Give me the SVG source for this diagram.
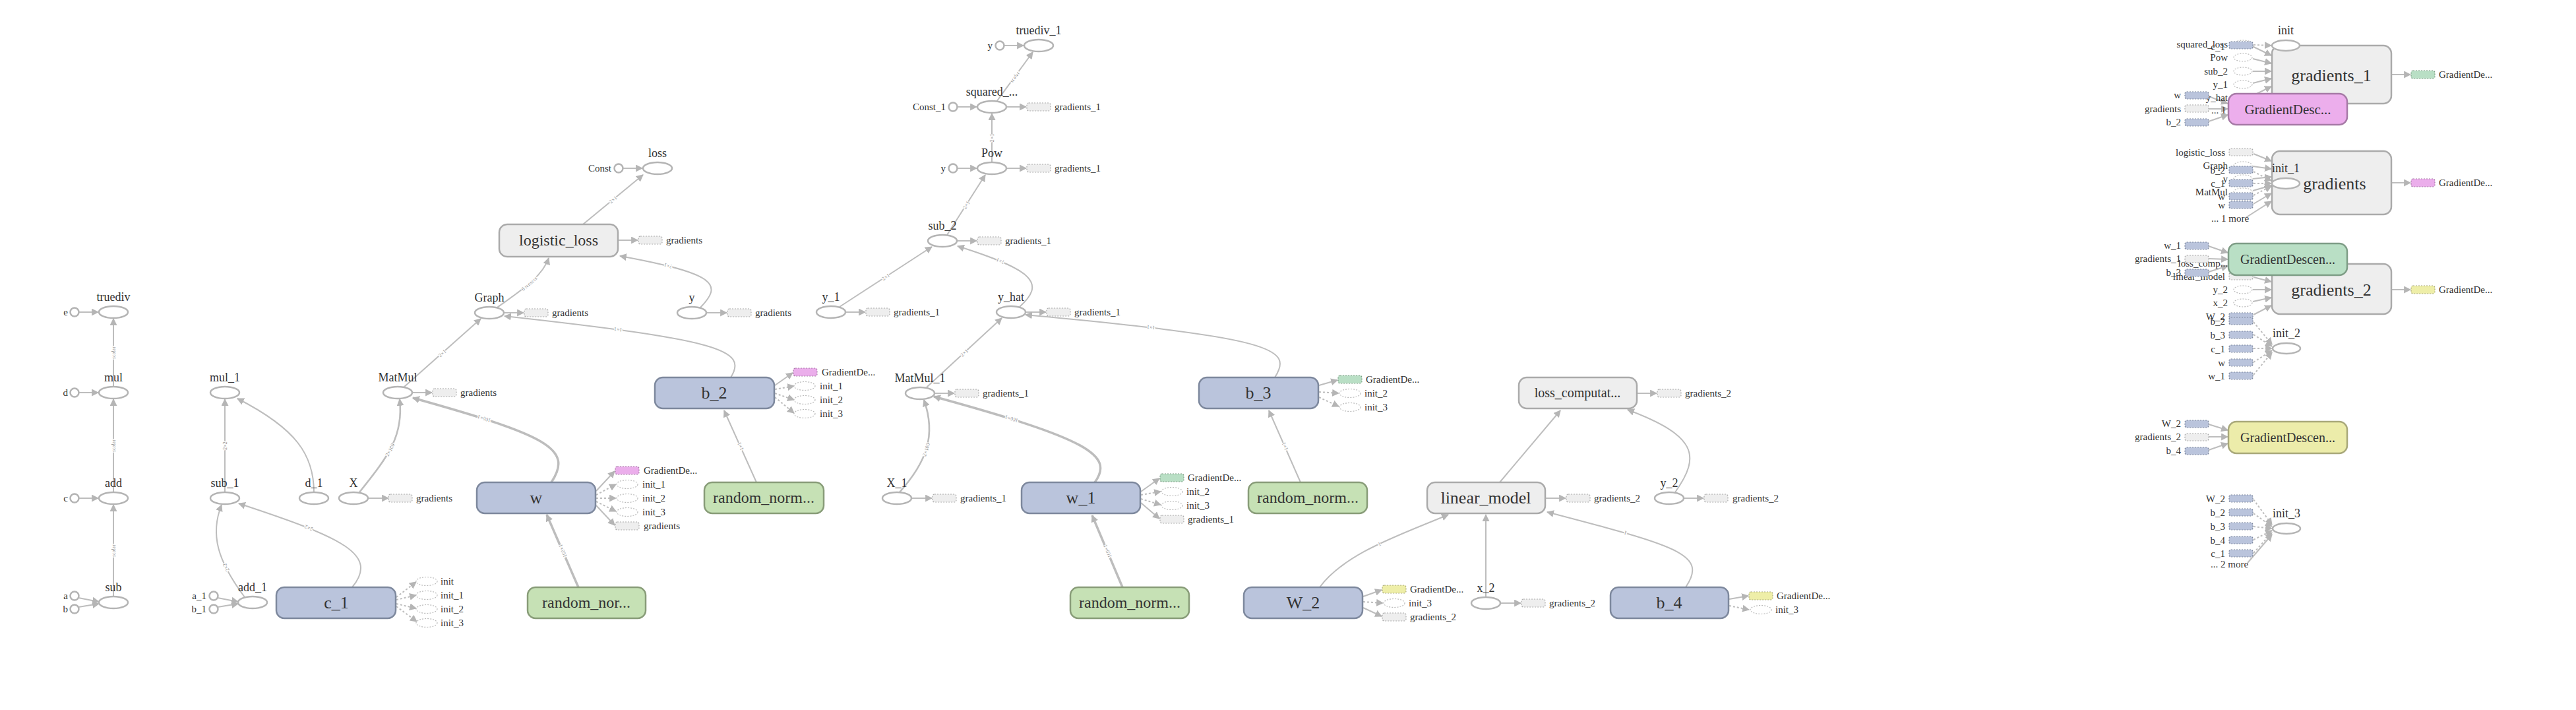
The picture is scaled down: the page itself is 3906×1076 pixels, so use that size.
<svg xmlns="http://www.w3.org/2000/svg" width="3906" height="1076" viewBox="0 0 3906 1076">
<defs>
<marker id="ah" viewBox="0 0 10 10" refX="9" refY="5" markerWidth="11" markerHeight="11" markerUnits="userSpaceOnUse" orient="auto"><path d="M0,0L10,5L0,10z" fill="#b5b5b5"/></marker>
</defs>
<style>
text{font-family:"Liberation Serif","Times New Roman",serif;fill:#333}
.op{fill:#fff;stroke:#b4b4b4;stroke-width:2.5}
.e{fill:none;stroke:#bdbdbd;stroke-width:2;marker-end:url(#ah)}
.t{stroke-width:3.5}
.m{stroke-width:2.6}
.c{stroke-dasharray:3,3}
.el{font-size:8px;fill:#888;stroke:#fff;stroke-width:2.5;paint-order:stroke}
.ol{font-size:18px;text-anchor:middle}
.sl{font-size:15px}
.sr{font-size:15px;text-anchor:end}
.bl{font-size:26px;text-anchor:middle}
.var{fill:#bac4dc;stroke:#7d889d;stroke-width:2.5}
.rn{fill:#c6e1b5;stroke:#889c78;stroke-width:2.5}
.meta{fill:#eeeeee;stroke:#aaaaaa;stroke-width:2.5}
.pk{fill:#ecaeec;stroke:#a67aa6;stroke-width:2.5}
.gd{fill:#b9dfc5;stroke:#7e9d86;stroke-width:2.5}
.yl{fill:#ececaa;stroke:#a8a87a;stroke-width:2.5}
.sb{stroke-width:1.2;stroke-dasharray:2,2}
.g{fill:#eeeeee;stroke:#aaaaaa}
.v{fill:#bac4dc;stroke:#7d889d}
.p{fill:#ebaeeb;stroke:#a57aa5}
.n{fill:#b9dfc5;stroke:#7e9d86}
.y{fill:#eeeea8;stroke:#a8a87c}
.se{fill:#fff;stroke:#bbbbbb;stroke-width:1.2;stroke-dasharray:2,2}
</style>
<rect width="3906" height="1076" fill="#fff"/>

<g id="connectors">
<!-- left column -->
<path class="e" d="M120,473L149,473"/>
<path class="e" d="M120,595L149,595"/>
<path class="e" d="M120,755L149,755"/>
<path class="e" d="M119,906L150,912"/>
<path class="e" d="M119,920L150,915"/>
<path id="p1" class="e" d="M172,904L172,765"/>
<path id="p2" class="e" d="M172,746L172,605"/>
<path id="p3" class="e" d="M172,586L172,483"/>
<!-- column 2 -->
<path class="e" d="M330,906L361,912"/>
<path class="e" d="M330,920L361,915"/>
<path id="p4" class="e" d="M341,746L341,605"/>
<path class="e" d="M476,746C476,690 450,650 360,604"/>
<path id="p5" class="e" d="M371,905C330,850 318,810 336,765"/>
<path id="p6" class="e" d="M534,890C575,840 520,815 362,763"/>
<path id="p7" class="e m" d="M545,746C590,690 612,660 606,605"/>
<path class="e" d="M558,755L589,755"/>
<path class="e" d="M625,595L655,595"/>
<path id="p8" class="e" d="M612,587L729,483"/>
<path id="p9" class="e t" d="M836,731C870,680 830,660 626,603"/>
<path id="p10" class="e t" d="M877,890L829,780"/>
<path class="e c" d="M601,905L631,882"/>
<path class="e c" d="M601,909L631,902"/>
<path class="e c" d="M601,915L631,922"/>
<path class="e c" d="M601,919L632,942"/>
<path class="e" d="M904,744L932,714"/>
<path class="e c" d="M904,750L934,734"/>
<path class="e c" d="M904,755L934,755"/>
<path class="e c" d="M904,760L934,775"/>
<path class="e" d="M904,766L932,796"/>
<path class="e" d="M764,474L794,474"/>
<path id="p11" class="e" d="M754,466C790,440 822,420 832,391"/>
<path class="e" d="M937,364L967,364"/>
<path id="p12" class="e" d="M884,340L975,265"/>
<path class="e" d="M945,255L974,255"/>
<path class="e" d="M1071,474L1102,474"/>
<path id="p13" class="e" d="M1062,466C1095,432 1090,415 940,388"/>
<path id="p14" class="e" d="M1108,572C1135,530 1090,515 765,479"/>
<path id="p15" class="e" d="M1147,731L1098,622"/>
<path class="e" d="M1175,584L1202,565"/>
<path class="e c" d="M1175,590L1204,585"/>
<path class="e c" d="M1175,596L1204,606"/>
<path class="e c" d="M1175,602L1204,626"/>
<!-- second graph -->
<path id="p16" class="e" d="M1511,154L1566,79"/>
<path class="e" d="M1523,69L1552,69"/>
<path class="e" d="M1452,162L1481,162"/>
<path class="e" d="M1526,162L1556,162"/>
<path id="p17" class="e" d="M1504,246L1504,172"/>
<path class="e" d="M1452,255L1481,255"/>
<path class="e" d="M1526,255L1556,255"/>
<path id="p18" class="e" d="M1436,356L1494,265"/>
<path class="e" d="M1451,365L1481,365"/>
<path id="p19" class="e" d="M1273,465L1413,374"/>
<path class="e" d="M1282,473L1312,473"/>
<path id="p20" class="e" d="M1546,465C1585,430 1570,410 1452,373"/>
<path class="e" d="M1555,473L1586,473"/>
<path id="p21" class="e" d="M1405,587L1519,482"/>
<path class="e" d="M1417,596L1447,596"/>
<path id="p22" class="e m" d="M1364,746C1405,700 1420,660 1401,606"/>
<path class="e" d="M1382,755L1413,755"/>
<path id="p23" class="e t" d="M1660,731C1690,690 1650,665 1416,601"/>
<path id="p24" class="e" d="M1933,572C1962,528 1930,512 1555,477"/>
<path id="p25" class="e" d="M1972,731L1924,622"/>
<path id="p26" class="e t" d="M1702,890L1656,781"/>
<path class="e" d="M1730,745L1758,725"/>
<path class="e c" d="M1730,750L1760,745"/>
<path class="e c" d="M1730,756L1760,765"/>
<path class="e" d="M1730,762L1758,786"/>
<path class="e" d="M2000,584L2028,576"/>
<path class="e c" d="M2000,594L2030,596"/>
<path class="e c" d="M2000,602L2030,616"/>
<!-- third graph -->
<path class="e" d="M2483,596L2512,596"/>
<path class="e" d="M2344,755L2374,755"/>
<path class="e" d="M2553,755L2583,755"/>
<path class="e" d="M2275,914L2306,914"/>
<path class="e" d="M2274,731L2366,622"/>
<path class="e" d="M2540,746C2580,690 2572,660 2468,621"/>
<path id="p27" class="e" d="M2001,890C2040,838 2120,812 2196,780"/>
<path class="e" d="M2253,905L2253,780"/>
<path id="p28" class="e" d="M2556,890C2590,840 2545,828 2346,776"/>
<path class="e" d="M2067,904L2095,894"/>
<path class="e c" d="M2067,912L2097,914"/>
<path class="e" d="M2067,921L2095,934"/>
<path class="e" d="M2622,908L2651,903"/>
<path class="e c" d="M2622,918L2652,924"/>
<!-- right side -->
<path class="e" d="M3415,70L3444,84"/>
<path class="e" d="M3416,89L3444,96"/>
<path class="e" d="M3416,108L3444,108"/>
<path class="e" d="M3416,126L3444,119"/>
<path class="e" d="M3416,145L3444,131"/>
<path class="e" d="M3410,167L3444,142"/>
<path class="e c" d="M3417,68L3444,69"/>
<path class="e" d="M3627,113L3655,113"/>
<path class="e" d="M3349,146L3378,157"/>
<path class="e" d="M3349,165L3378,165"/>
<path class="e" d="M3349,184L3378,174"/>
<path class="e" d="M3417,233L3444,244"/>
<path class="e" d="M3416,252L3444,256"/>
<path class="e" d="M3416,271L3444,268"/>
<path class="e" d="M3416,289L3444,281"/>
<path class="e" d="M3417,309L3444,293"/>
<path class="e" d="M3405,330L3444,305"/>
<path class="e c" d="M3417,260L3444,274"/>
<path class="e c" d="M3417,278L3444,278"/>
<path class="e c" d="M3417,296L3444,282"/>
<path class="e" d="M3627,277L3655,277"/>
<path class="e" d="M3417,402L3444,414"/>
<path class="e" d="M3417,420L3444,427"/>
<path class="e" d="M3416,439L3444,439"/>
<path class="e" d="M3416,457L3444,451"/>
<path class="e" d="M3417,477L3444,463"/>
<path class="e" d="M3627,439L3655,439"/>
<path class="e" d="M3349,373L3378,383"/>
<path class="e" d="M3349,392L3378,393"/>
<path class="e" d="M3349,412L3378,403"/>
<path class="e c" d="M3417,488L3445,522"/>
<path class="e c" d="M3417,507L3445,525"/>
<path class="e c" d="M3417,528L3445,528"/>
<path class="e c" d="M3417,549L3445,531"/>
<path class="e c" d="M3417,568L3445,534"/>
<path class="e" d="M3349,643L3378,652"/>
<path class="e" d="M3349,662L3378,662"/>
<path class="e" d="M3349,682L3378,672"/>
<path class="e c" d="M3417,757L3445,795"/>
<path class="e c" d="M3417,778L3445,798"/>
<path class="e c" d="M3417,798L3445,801"/>
<path class="e c" d="M3417,818L3445,804"/>
<path class="e c" d="M3417,838L3445,807"/>
<path class="e" d="M3408,853L3445,810"/>
<!-- edge labels -->
<text class="el" dy="3"><textPath href="#p1" startOffset="50%" text-anchor="middle">scalar</textPath></text>
<text class="el" dy="3"><textPath href="#p2" startOffset="50%" text-anchor="middle">scalar</textPath></text>
<text class="el" dy="3"><textPath href="#p3" startOffset="50%" text-anchor="middle">scalar</textPath></text>
<text class="el" dy="3"><textPath href="#p4" startOffset="50%" text-anchor="middle">2×2</textPath></text>
<text class="el" dy="3"><textPath href="#p5" startOffset="35%" text-anchor="middle">2×2</textPath></text>
<text class="el" dy="3"><textPath href="#p6" startOffset="55%" text-anchor="middle">2×2</textPath></text>
<text class="el" dy="3"><textPath href="#p7" startOffset="50%" text-anchor="middle">2×100</textPath></text>
<text class="el" dy="3"><textPath href="#p8" startOffset="50%" text-anchor="middle">2×1</textPath></text>
<text class="el" dy="3"><textPath href="#p9" startOffset="60%" text-anchor="middle">100×1</textPath></text>
<text class="el" dy="3"><textPath href="#p10" startOffset="50%" text-anchor="middle">100×1</textPath></text>
<text class="el" dy="3"><textPath href="#p11" startOffset="55%" text-anchor="middle">6 tensors</textPath></text>
<text class="el" dy="3"><textPath href="#p12" startOffset="50%" text-anchor="middle">2×1</textPath></text>
<text class="el" dy="3"><textPath href="#p13" startOffset="60%" text-anchor="middle">?×1</textPath></text>
<text class="el" dy="3"><textPath href="#p14" startOffset="55%" text-anchor="middle">1×1</textPath></text>
<text class="el" dy="3"><textPath href="#p15" startOffset="50%" text-anchor="middle">1×1</textPath></text>
<text class="el" dy="3"><textPath href="#p16" startOffset="50%" text-anchor="middle">scalar</textPath></text>
<text class="el" dy="3"><textPath href="#p17" startOffset="50%" text-anchor="middle">2×1</textPath></text>
<text class="el" dy="3"><textPath href="#p18" startOffset="50%" text-anchor="middle">2×1</textPath></text>
<text class="el" dy="3"><textPath href="#p19" startOffset="50%" text-anchor="middle">2×1</textPath></text>
<text class="el" dy="3"><textPath href="#p20" startOffset="60%" text-anchor="middle">?×1</textPath></text>
<text class="el" dy="3"><textPath href="#p21" startOffset="50%" text-anchor="middle">2×1</textPath></text>
<text class="el" dy="3"><textPath href="#p22" startOffset="50%" text-anchor="middle">2×100</textPath></text>
<text class="el" dy="3"><textPath href="#p23" startOffset="60%" text-anchor="middle">100×1</textPath></text>
<text class="el" dy="3"><textPath href="#p24" startOffset="55%" text-anchor="middle">1×1</textPath></text>
<text class="el" dy="3"><textPath href="#p25" startOffset="50%" text-anchor="middle">1×1</textPath></text>
<text class="el" dy="3"><textPath href="#p26" startOffset="50%" text-anchor="middle">100×1</textPath></text>
<text class="el" dy="3"><textPath href="#p27" startOffset="50%" text-anchor="middle">1</textPath></text>
<text class="el" dy="3"><textPath href="#p28" startOffset="55%" text-anchor="middle">1</textPath></text>
</g>

<!-- ===== left column ===== -->
<g id="node-truediv"><ellipse class="op" cx="172" cy="473" rx="22" ry="9"/><text class="ol" x="172" y="456">truediv</text></g>
<g id="node-e"><circle class="op" cx="113" cy="473" r="6.5"/><text class="sr" x="103" y="478">e</text></g>
<g id="node-mul"><ellipse class="op" cx="172" cy="595" rx="22" ry="9"/><text class="ol" x="172" y="578">mul</text></g>
<g id="node-d"><circle class="op" cx="113" cy="595" r="6.5"/><text class="sr" x="103" y="600">d</text></g>
<g id="node-add"><ellipse class="op" cx="172" cy="755" rx="22" ry="9"/><text class="ol" x="172" y="738">add</text></g>
<g id="node-c"><circle class="op" cx="113" cy="755" r="6.5"/><text class="sr" x="103" y="760">c</text></g>
<g id="node-sub"><ellipse class="op" cx="172" cy="913" rx="22" ry="9"/><text class="ol" x="172" y="896">sub</text></g>
<g id="node-a"><circle class="op" cx="113" cy="903" r="6.5"/><text class="sr" x="103" y="908">a</text></g>
<g id="node-b"><circle class="op" cx="113" cy="923" r="6.5"/><text class="sr" x="103" y="928">b</text></g>

<!-- ===== column 2 ===== -->
<g id="node-mul_1"><ellipse class="op" cx="341" cy="595" rx="22" ry="9"/><text class="ol" x="341" y="578">mul_1</text></g>
<g id="node-sub_1"><ellipse class="op" cx="341" cy="755" rx="22" ry="9"/><text class="ol" x="341" y="738">sub_1</text></g>
<g id="node-d_1"><ellipse class="op" cx="476" cy="755" rx="22" ry="9"/><text class="ol" x="476" y="738">d_1</text></g>
<g id="node-X"><ellipse class="op" cx="536" cy="755" rx="22" ry="9"/><text class="ol" x="536" y="738">X</text>
<rect class="sb g" x="589" y="749" width="36" height="12" rx="3"/><text class="sl" x="631" y="760">gradients</text></g>
<g id="node-add_1"><ellipse class="op" cx="383" cy="913" rx="22" ry="9"/><text class="ol" x="383" y="896">add_1</text></g>
<g id="node-a_1"><circle class="op" cx="324" cy="903" r="6.5"/><text class="sr" x="313" y="908">a_1</text></g>
<g id="node-b_1"><circle class="op" cx="324" cy="923" r="6.5"/><text class="sr" x="313" y="928">b_1</text></g>
<g id="node-c_1"><rect class="var" x="419" y="890" width="181" height="47" rx="12"/><text class="bl" x="510" y="922">c_1</text>
<ellipse class="se" cx="647" cy="881" rx="16" ry="6.5"/><text class="sl" x="668" y="886">init</text>
<ellipse class="se" cx="647" cy="902" rx="16" ry="6.5"/><text class="sl" x="668" y="907">init_1</text>
<ellipse class="se" cx="647" cy="923" rx="16" ry="6.5"/><text class="sl" x="668" y="928">init_2</text>
<ellipse class="se" cx="647" cy="944" rx="16" ry="6.5"/><text class="sl" x="668" y="949">init_3</text></g>
<g id="node-MatMul"><ellipse class="op" cx="603" cy="595" rx="22" ry="9"/><text class="ol" x="603" y="578">MatMul</text>
<rect class="sb g" x="656" y="589" width="36" height="12" rx="3"/><text class="sl" x="698" y="600">gradients</text></g>
<g id="node-w"><rect class="var" x="723" y="731" width="180" height="47" rx="12"/><text class="bl" x="813" y="763">w</text>
<rect class="sb p" x="933" y="707" width="36" height="12" rx="3"/><text class="sl" x="976" y="718">GradientDe...</text>
<ellipse class="se" cx="951" cy="734" rx="16" ry="6.5"/><text class="sl" x="974" y="739">init_1</text>
<ellipse class="se" cx="951" cy="755" rx="16" ry="6.5"/><text class="sl" x="974" y="760">init_2</text>
<ellipse class="se" cx="951" cy="776" rx="16" ry="6.5"/><text class="sl" x="974" y="781">init_3</text>
<rect class="sb g" x="933" y="791" width="36" height="12" rx="3"/><text class="sl" x="976" y="802">gradients</text></g>
<g id="node-random_nor"><rect class="rn" x="800" y="890" width="179" height="47" rx="12"/><text class="bl" x="889" y="921" style="font-size:24px">random_nor...</text></g>
<g id="node-Graph"><ellipse class="op" cx="742" cy="474" rx="22" ry="9"/><text class="ol" x="742" y="457">Graph</text>
<rect class="sb g" x="795" y="468" width="36" height="12" rx="3"/><text class="sl" x="837" y="479">gradients</text></g>
<g id="node-logistic_loss"><rect class="meta" x="757" y="340" width="180" height="49" rx="12"/><text class="bl" x="847" y="372" style="font-size:24px">logistic_loss</text>
<rect class="sb g" x="968" y="358" width="36" height="12" rx="3"/><text class="sl" x="1010" y="369">gradients</text></g>
<g id="node-loss"><ellipse class="op" cx="997" cy="255" rx="22" ry="9"/><text class="ol" x="997" y="238">loss</text></g>
<g id="node-Const"><circle class="op" cx="938" cy="255" r="6.5"/><text class="sr" x="927" y="260">Const</text></g>
<g id="node-y"><ellipse class="op" cx="1049" cy="474" rx="22" ry="9"/><text class="ol" x="1049" y="457">y</text>
<rect class="sb g" x="1103" y="468" width="36" height="12" rx="3"/><text class="sl" x="1145" y="479">gradients</text></g>
<g id="node-b_2"><rect class="var" x="993" y="572" width="181" height="47" rx="12"/><text class="bl" x="1083" y="604">b_2</text>
<rect class="sb p" x="1203" y="558" width="36" height="12" rx="3"/><text class="sl" x="1246" y="569">GradientDe...</text>
<ellipse class="se" cx="1220" cy="585" rx="16" ry="6.5"/><text class="sl" x="1243" y="590">init_1</text>
<ellipse class="se" cx="1220" cy="606" rx="16" ry="6.5"/><text class="sl" x="1243" y="611">init_2</text>
<ellipse class="se" cx="1220" cy="627" rx="16" ry="6.5"/><text class="sl" x="1243" y="632">init_3</text></g>
<g id="node-random_norm_b2"><rect class="rn" x="1068" y="731" width="181" height="47" rx="12"/><text class="bl" x="1158" y="762" style="font-size:24px">random_norm...</text></g>

<!-- ===== second graph ===== -->
<g id="node-truediv_1"><ellipse class="op" cx="1575" cy="69" rx="22" ry="9"/><text class="ol" x="1575" y="52">truediv_1</text></g>
<g id="node-y_c1"><circle class="op" cx="1516" cy="69" r="6.5"/><text class="sr" x="1505" y="74">y</text></g>
<g id="node-squared"><ellipse class="op" cx="1504" cy="162" rx="22" ry="9"/><text class="ol" x="1504" y="145">squared_...</text>
<rect class="sb g" x="1557" y="156" width="36" height="12" rx="3"/><text class="sl" x="1599" y="167">gradients_1</text></g>
<g id="node-Const_1"><circle class="op" cx="1445" cy="162" r="6.5"/><text class="sr" x="1434" y="167">Const_1</text></g>
<g id="node-Pow"><ellipse class="op" cx="1504" cy="255" rx="22" ry="9"/><text class="ol" x="1504" y="238">Pow</text>
<rect class="sb g" x="1557" y="249" width="36" height="12" rx="3"/><text class="sl" x="1599" y="260">gradients_1</text></g>
<g id="node-y_c2"><circle class="op" cx="1445" cy="255" r="6.5"/><text class="sr" x="1434" y="260">y</text></g>
<g id="node-sub_2"><ellipse class="op" cx="1429" cy="365" rx="22" ry="9"/><text class="ol" x="1429" y="348">sub_2</text>
<rect class="sb g" x="1482" y="359" width="36" height="12" rx="3"/><text class="sl" x="1524" y="370">gradients_1</text></g>
<g id="node-y_1"><ellipse class="op" cx="1260" cy="473" rx="22" ry="9"/><text class="ol" x="1260" y="456">y_1</text>
<rect class="sb g" x="1313" y="467" width="36" height="12" rx="3"/><text class="sl" x="1355" y="478">gradients_1</text></g>
<g id="node-y_hat"><ellipse class="op" cx="1533" cy="473" rx="22" ry="9"/><text class="ol" x="1533" y="456">y_hat</text>
<rect class="sb g" x="1587" y="467" width="36" height="12" rx="3"/><text class="sl" x="1629" y="478">gradients_1</text></g>
<g id="node-MatMul_1"><ellipse class="op" cx="1395" cy="596" rx="22" ry="9"/><text class="ol" x="1395" y="579">MatMul_1</text>
<rect class="sb g" x="1448" y="590" width="36" height="12" rx="3"/><text class="sl" x="1490" y="601">gradients_1</text></g>
<g id="node-X_1"><ellipse class="op" cx="1360" cy="755" rx="22" ry="9"/><text class="ol" x="1360" y="738">X_1</text>
<rect class="sb g" x="1414" y="749" width="36" height="12" rx="3"/><text class="sl" x="1456" y="760">gradients_1</text></g>
<g id="node-w_1"><rect class="var" x="1549" y="731" width="180" height="47" rx="12"/><text class="bl" x="1639" y="763">w_1</text>
<rect class="sb n" x="1759" y="718" width="36" height="12" rx="3"/><text class="sl" x="1801" y="729">GradientDe...</text>
<ellipse class="se" cx="1777" cy="745" rx="16" ry="6.5"/><text class="sl" x="1799" y="750">init_2</text>
<ellipse class="se" cx="1777" cy="766" rx="16" ry="6.5"/><text class="sl" x="1799" y="771">init_3</text>
<rect class="sb g" x="1759" y="781" width="36" height="12" rx="3"/><text class="sl" x="1801" y="792">gradients_1</text></g>
<g id="node-random_norm_w1"><rect class="rn" x="1623" y="890" width="180" height="47" rx="12"/><text class="bl" x="1713" y="921" style="font-size:24px">random_norm...</text></g>
<g id="node-b_3"><rect class="var" x="1818" y="572" width="181" height="47" rx="12"/><text class="bl" x="1908" y="604">b_3</text>
<rect class="sb n" x="2029" y="569" width="36" height="12" rx="3"/><text class="sl" x="2071" y="580">GradientDe...</text>
<ellipse class="se" cx="2047" cy="596" rx="16" ry="6.5"/><text class="sl" x="2069" y="601">init_2</text>
<ellipse class="se" cx="2047" cy="617" rx="16" ry="6.5"/><text class="sl" x="2069" y="622">init_3</text></g>
<g id="node-random_norm_b3"><rect class="rn" x="1893" y="731" width="180" height="47" rx="12"/><text class="bl" x="1983" y="762" style="font-size:24px">random_norm...</text></g>

<!-- ===== third graph ===== -->
<g id="node-loss_computat"><rect class="meta" x="2303" y="572" width="179" height="47" rx="12"/><text class="bl" x="2392" y="602" style="font-size:20px">loss_computat...</text>
<rect class="sb g" x="2513" y="590" width="36" height="12" rx="3"/><text class="sl" x="2555" y="601">gradients_2</text></g>
<g id="node-linear_model"><rect class="meta" x="2164" y="731" width="179" height="47" rx="12"/><text class="bl" x="2253" y="763">linear_model</text>
<rect class="sb g" x="2375" y="749" width="36" height="12" rx="3"/><text class="sl" x="2417" y="760">gradients_2</text></g>
<g id="node-y_2"><ellipse class="op" cx="2531" cy="755" rx="22" ry="9"/><text class="ol" x="2531" y="738">y_2</text>
<rect class="sb g" x="2584" y="749" width="36" height="12" rx="3"/><text class="sl" x="2627" y="760">gradients_2</text></g>
<g id="node-W_2"><rect class="var" x="1886" y="890" width="180" height="47" rx="12"/><text class="bl" x="1976" y="922">W_2</text>
<rect class="sb y" x="2096" y="887" width="36" height="12" rx="3"/><text class="sl" x="2138" y="898">GradientDe...</text>
<ellipse class="se" cx="2114" cy="914" rx="16" ry="6.5"/><text class="sl" x="2136" y="919">init_3</text>
<rect class="sb g" x="2096" y="929" width="36" height="12" rx="3"/><text class="sl" x="2138" y="940">gradients_2</text></g>
<g id="node-x_2"><ellipse class="op" cx="2253" cy="914" rx="22" ry="9"/><text class="ol" x="2253" y="897">x_2</text>
<rect class="sb g" x="2307" y="908" width="36" height="12" rx="3"/><text class="sl" x="2349" y="919">gradients_2</text></g>
<g id="node-b_4"><rect class="var" x="2442" y="890" width="179" height="47" rx="12"/><text class="bl" x="2531" y="922">b_4</text>
<rect class="sb y" x="2652" y="897" width="36" height="12" rx="3"/><text class="sl" x="2694" y="908">GradientDe...</text>
<ellipse class="se" cx="2670" cy="924" rx="16" ry="6.5"/><text class="sl" x="2692" y="929">init_3</text></g>

<!-- ===== right side ===== -->
<g id="node-gradients_1"><rect class="meta" x="3445" y="69" width="181" height="88" rx="12"/><text class="bl" x="3535" y="123">gradients_1</text>
<rect class="sb n" x="3656" y="107" width="36" height="12" rx="3"/><text class="sl" x="3698" y="118">GradientDe...</text>
<ellipse class="se" cx="3401" cy="67" rx="14" ry="6"/><text class="sr" x="3378" y="72">squared_loss</text>
<ellipse class="se" cx="3401" cy="87" rx="14" ry="6"/><text class="sr" x="3378" y="92">Pow</text>
<ellipse class="se" cx="3401" cy="108" rx="14" ry="6"/><text class="sr" x="3378" y="113">sub_2</text>
<ellipse class="se" cx="3401" cy="128" rx="14" ry="6"/><text class="sr" x="3378" y="133">y_1</text>
<ellipse class="se" cx="3401" cy="148" rx="14" ry="6"/><text class="sr" x="3378" y="153">y_hat</text>
<text class="sl" x="3353" y="172">... 1 more</text></g>
<g id="node-init"><ellipse class="op" cx="3466" cy="69" rx="21" ry="8"/><text class="ol" x="3466" y="52">init</text>
<rect class="sb v" x="3380" y="63" width="36" height="11" rx="3"/><text class="sr" x="3374" y="76">c_1</text></g>
<g id="node-GradientDesc"><rect class="pk" x="3379" y="142" width="180" height="47" rx="12"/><text class="bl" x="3469" y="173" style="font-size:21px">GradientDesc...</text>
<rect class="sb v" x="3313" y="139" width="36" height="11" rx="3"/><text class="sr" x="3307" y="149">w</text>
<rect class="sb g" x="3313" y="159" width="36" height="11" rx="3"/><text class="sr" x="3307" y="170">gradients</text>
<rect class="sb v" x="3313" y="180" width="36" height="11" rx="3"/><text class="sr" x="3307" y="190">b_2</text></g>

<g id="node-gradients"><rect class="meta" x="3445" y="229" width="181" height="96" rx="12"/><text class="bl" x="3540" y="287">gradients</text>
<rect class="sb p" x="3656" y="271" width="36" height="12" rx="3"/><text class="sl" x="3698" y="282">GradientDe...</text>
<rect class="sb g" x="3380" y="225" width="36" height="11" rx="3"/><text class="sr" x="3374" y="236">logistic_loss</text>
<ellipse class="se" cx="3401" cy="251" rx="14" ry="6"/><text class="sr" x="3378" y="256">Graph</text>
<ellipse class="se" cx="3401" cy="271" rx="14" ry="6"/><text class="sr" x="3378" y="276">y</text>
<ellipse class="se" cx="3401" cy="291" rx="14" ry="6"/><text class="sr" x="3378" y="296">MatMul</text>
<rect class="sb v" x="3380" y="305" width="36" height="11" rx="3"/><text class="sr" x="3374" y="316">w</text>
<text class="sl" x="3353" y="336">... 1 more</text></g>
<g id="node-init_1"><ellipse class="op" cx="3466" cy="278" rx="21" ry="8"/><text class="ol" x="3466" y="261">init_1</text>
<rect class="sb v" x="3380" y="252" width="36" height="11" rx="3"/><text class="sr" x="3374" y="263">b_2</text>
<rect class="sb v" x="3380" y="272" width="36" height="11" rx="3"/><text class="sr" x="3374" y="283">c_1</text>
<rect class="sb v" x="3380" y="292" width="36" height="11" rx="3"/><text class="sr" x="3374" y="303">w</text></g>

<g id="node-gradients_2"><rect class="meta" x="3445" y="400" width="181" height="76" rx="12"/><text class="bl" x="3535" y="448">gradients_2</text>
<rect class="sb y" x="3656" y="433" width="36" height="12" rx="3"/><text class="sl" x="3698" y="444">GradientDe...</text>
<rect class="sb g" x="3380" y="393" width="36" height="11" rx="3"/><text class="sr" x="3378" y="404">loss_comp...</text>
<rect class="sb g" x="3380" y="413" width="36" height="11" rx="3"/><text class="sr" x="3374" y="424">linear_model</text>
<ellipse class="se" cx="3401" cy="439" rx="14" ry="6"/><text class="sr" x="3378" y="444">y_2</text>
<ellipse class="se" cx="3401" cy="459" rx="14" ry="6"/><text class="sr" x="3378" y="464">x_2</text>
<rect class="sb v" x="3380" y="474" width="36" height="11" rx="3"/><text class="sr" x="3374" y="485">W_2</text></g>
<g id="node-GradientDescen_green"><rect class="gd" x="3379" y="369" width="180" height="48" rx="12"/><text class="bl" x="3469" y="400" style="font-size:20px">GradientDescen...</text>
<rect class="sb v" x="3313" y="367" width="36" height="11" rx="3"/><text class="sr" x="3307" y="377">w_1</text>
<rect class="sb g" x="3313" y="387" width="36" height="11" rx="3"/><text class="sr" x="3307" y="397">gradients_1</text>
<rect class="sb v" x="3313" y="408" width="36" height="11" rx="3"/><text class="sr" x="3307" y="418">b_3</text></g>
<g id="node-init_2"><ellipse class="op" cx="3467" cy="528" rx="21" ry="8"/><text class="ol" x="3467" y="511">init_2</text>
<rect class="sb v" x="3380" y="481" width="36" height="11" rx="3"/><text class="sr" x="3374" y="492">b_2</text>
<rect class="sb v" x="3380" y="502" width="36" height="11" rx="3"/><text class="sr" x="3374" y="513">b_3</text>
<rect class="sb v" x="3380" y="523" width="36" height="11" rx="3"/><text class="sr" x="3374" y="534">c_1</text>
<rect class="sb v" x="3380" y="544" width="36" height="11" rx="3"/><text class="sr" x="3374" y="555">w</text>
<rect class="sb v" x="3380" y="564" width="36" height="11" rx="3"/><text class="sr" x="3374" y="575">w_1</text></g>

<g id="node-GradientDescen_yellow"><rect class="yl" x="3379" y="639" width="180" height="48" rx="12"/><text class="bl" x="3469" y="670" style="font-size:20px">GradientDescen...</text>
<rect class="sb v" x="3313" y="637" width="36" height="11" rx="3"/><text class="sr" x="3307" y="647">W_2</text>
<rect class="sb g" x="3313" y="657" width="36" height="11" rx="3"/><text class="sr" x="3307" y="667">gradients_2</text>
<rect class="sb v" x="3313" y="678" width="36" height="11" rx="3"/><text class="sr" x="3307" y="688">b_4</text></g>
<g id="node-init_3"><ellipse class="op" cx="3467" cy="801" rx="21" ry="8"/><text class="ol" x="3467" y="784">init_3</text>
<rect class="sb v" x="3380" y="750" width="36" height="11" rx="3"/><text class="sr" x="3374" y="761">W_2</text>
<rect class="sb v" x="3380" y="771" width="36" height="11" rx="3"/><text class="sr" x="3374" y="782">b_2</text>
<rect class="sb v" x="3380" y="792" width="36" height="11" rx="3"/><text class="sr" x="3374" y="803">b_3</text>
<rect class="sb v" x="3380" y="813" width="36" height="11" rx="3"/><text class="sr" x="3374" y="824">b_4</text>
<rect class="sb v" x="3380" y="833" width="36" height="11" rx="3"/><text class="sr" x="3374" y="844">c_1</text>
<text class="sl" x="3352" y="860">... 2 more</text></g>
</svg>
